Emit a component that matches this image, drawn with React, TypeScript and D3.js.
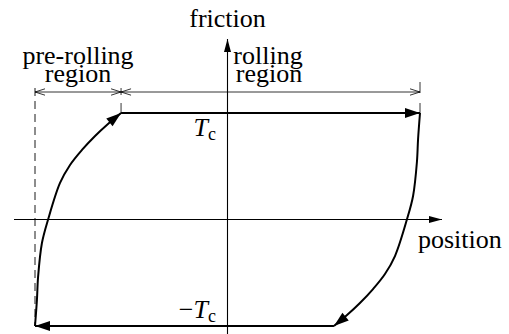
import React from "react";
import * as d3 from "d3";

// Friction vs. position hysteresis loop (normalised units: ±1 = ±Tc, ±1 = position extremes)
const preRollPos = [-1, -0.99, -0.984, -0.964, -0.932, -0.87, -0.818, -0.756, -0.688, -0.621, -0.553];
const preRollFriction = [-1, -0.756, -0.54, -0.221, 0, 0.343, 0.512, 0.653, 0.784, 0.897, 1];
// reverse branch is the point reflection of the forward branch
const reversePos = preRollPos.map((v) => -v);
const reverseFriction = preRollFriction.map((v) => -v);
const coulombLevels = [1, -1];
const regionBounds = [-1, -0.553, 1];
const regionLabels = [["pre-rolling", "region"], ["rolling", "region"]];

const W = 509;
const H = 334;
const FONT = "Liberation Serif";
const FS = 26;

function Label(props: { x: number; y: number; anchor?: string; children: React.ReactNode }) {
  return (
    <text x={props.x} y={props.y} textAnchor={props.anchor ?? "start"} fontFamily={FONT} fontSize={FS} fill="#000">
      {props.children}
    </text>
  );
}

export default function App() {
  const x = d3.scaleLinear().domain([-1, 1]).range([35, 420]);
  const y = d3.scaleLinear().domain([-1, 1]).range([326, 113]);
  const x0 = x(0);
  const y0 = y(0);

  const line = d3
    .line<[number, number]>()
    .x((d) => x(d[0]))
    .y((d) => y(d[1]))
    .curve(d3.curveCatmullRom.alpha(0.5));

  const forward = line(preRollPos.map((p, i) => [p, preRollFriction[i]]));
  const reverse = line(reversePos.map((p, i) => [p, reverseFriction[i]]));
  const straight = d3.line<[number, number]>().x((d) => x(d[0])).y((d) => y(d[1]));

  const topRun = straight([[regionBounds[1], coulombLevels[0]], [1, coulombLevels[0]]]);
  const bottomRun = straight([[-regionBounds[1], coulombLevels[1]], [-1, coulombLevels[1]]]);

  const dimY = y(1) - 21;
  const [bx0, bx1, bx2] = regionBounds.map((b) => x(b));

  return (
    <svg
      width={W}
      height={H}
      style={{ position: "absolute", left: 0, top: 0, background: "#fff" }}
    >
      <defs>
        <marker id="bigArrow" markerUnits="userSpaceOnUse" markerWidth="20" markerHeight="14"
          viewBox="-16 -7 18 14" refX="0" refY="0" orient="auto">
          <path d="M-15,-5 L0,0 L-15,5 Z" fill="#000" />
        </marker>
        <marker id="axisArrow" markerUnits="userSpaceOnUse" markerWidth="16" markerHeight="10"
          viewBox="-14 -5 16 10" refX="0" refY="0" orient="auto">
          <path d="M-13,-3.5 L0,0 L-13,3.5 Z" fill="#000" />
        </marker>
        <marker id="openArrow" markerUnits="userSpaceOnUse" markerWidth="14" markerHeight="10"
          viewBox="-12 -5 14 10" refX="0" refY="0" orient="auto-start-reverse">
          <path d="M-10,-3.2 L0,0 L-10,3.2" fill="none" stroke="#000" strokeWidth="0.8" />
        </marker>
      </defs>

      {/* axes */}
      <line x1={14} y1={y0} x2={442} y2={y0} stroke="#000" strokeWidth={1.1} markerEnd="url(#axisArrow)" />
      <line x1={x0} y1={H} x2={x0} y2={39} stroke="#000" strokeWidth={1.1} markerEnd="url(#axisArrow)" />

      {/* region boundaries */}
      <line x1={bx0} y1={88} x2={bx0} y2={y(-1)} stroke="#000" strokeWidth={0.9} strokeDasharray="8 5" />
      <line x1={bx1} y1={dimY - 4} x2={bx1} y2={dimY + 3} stroke="#000" strokeWidth={0.8} />
      <line x1={bx1} y1={dimY + 11} x2={bx1} y2={y(1)} stroke="#000" strokeWidth={0.8} />
      <line x1={bx2} y1={dimY - 10} x2={bx2} y2={dimY + 1} stroke="#000" strokeWidth={0.8} />
      <line x1={bx2} y1={dimY + 11} x2={bx2} y2={y(1)} stroke="#000" strokeWidth={0.8} />

      {/* dimension lines */}
      <line x1={bx0} y1={dimY} x2={bx1} y2={dimY} stroke="#000" strokeWidth={0.8}
        markerStart="url(#openArrow)" markerEnd="url(#openArrow)" />
      <line x1={bx1} y1={dimY} x2={bx2} y2={dimY} stroke="#000" strokeWidth={0.8}
        markerStart="url(#openArrow)" markerEnd="url(#openArrow)" />

      {/* hysteresis loop */}
      <g fill="none" stroke="#000" strokeWidth={2}>
        <path d={forward ?? ""} markerEnd="url(#bigArrow)" />
        <path d={topRun ?? ""} markerEnd="url(#bigArrow)" />
        <path d={reverse ?? ""} markerEnd="url(#bigArrow)" />
        <path d={bottomRun ?? ""} markerEnd="url(#bigArrow)" />
      </g>

      {/* labels */}
      <Label x={x0} y={27} anchor="middle">friction</Label>
      <Label x={(bx0 + bx1) / 2} y={64} anchor="middle">{regionLabels[0][0]}</Label>
      <Label x={(bx0 + bx1) / 2} y={82} anchor="middle">{regionLabels[0][1]}</Label>
      <Label x={268} y={64} anchor="middle">{regionLabels[1][0]}</Label>
      <Label x={269} y={82} anchor="middle">{regionLabels[1][1]}</Label>
      <Label x={418} y={y0 + 28}>position</Label>
      <Label x={216} y={y(coulombLevels[0]) + 23} anchor="end">
        <tspan fontStyle="italic">T</tspan>
        <tspan fontSize={18} dy={4}>c</tspan>
      </Label>
      <Label x={216} y={y(coulombLevels[1]) - 8} anchor="end">
        <tspan>−</tspan>
        <tspan fontStyle="italic">T</tspan>
        <tspan fontSize={18} dy={4}>c</tspan>
      </Label>
    </svg>
  );
}
